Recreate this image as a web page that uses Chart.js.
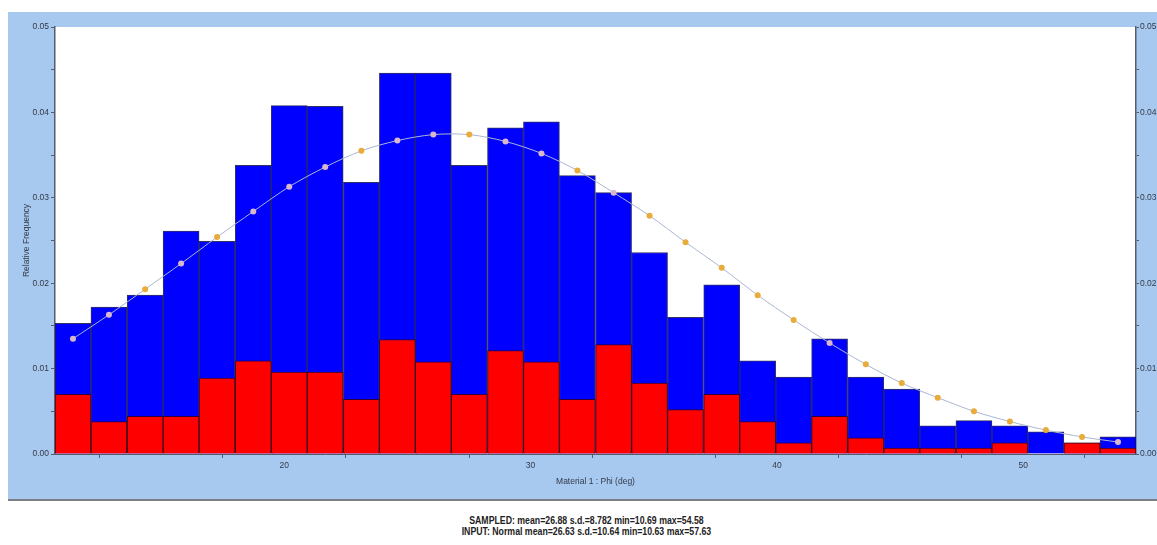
<!DOCTYPE html>
<html>
<head>
<meta charset="utf-8">
<script src="https://cdn.jsdelivr.net/npm/chart.js@4.4.0/dist/chart.umd.min.js"></script>
<style>
  html, body { margin: 0; padding: 0; background: #ffffff; }
  #wrap { position: relative; width: 1157px; height: 545px; overflow: hidden; background: #fff; }
  #panel { position: absolute; left: 8px; top: 12px; width: 1149px; height: 487px; background: #A7C8EF; border-bottom: 2px solid #7d7f84; }
  #cv { position: absolute; left: 8px; top: 12px; }
  #stats { position: absolute; left: 8px; width: 1157px; top: 515px; text-align: center;
           font-family: "Liberation Sans Narrow", "Arial Narrow", "Liberation Sans", sans-serif;
           font-weight: bold; font-size: 10px; line-height: 11px; color: #222;
           transform: scaleX(0.875); transform-origin: 578px 0; }
</style>
</head>
<body>
<div id="wrap">
  <div id="panel"></div>
  <canvas id="cv" width="1149" height="485"></canvas>
  <div id="stats">SAMPLED: mean=26.88 s.d.=8.782 min=10.69 max=54.58<br>INPUT: Normal mean=26.63 s.d.=10.64 min=10.63 max=57.63</div>
</div>
<script>
// Bin centres (Material 1 : Phi, deg) — 30 bins between sampled min and max
const binCenters = [11.42, 12.88, 14.35, 15.81, 17.27, 18.74, 20.20, 21.66, 23.13, 24.59,
                    26.05, 27.51, 28.98, 30.44, 31.90, 33.37, 34.83, 36.29, 37.76, 39.22,
                    40.68, 42.14, 43.61, 45.07, 46.53, 48.00, 49.46, 50.92, 52.39, 53.85];
// Blue: all samples (relative frequency)
const blueValues = [0.0153, 0.0172, 0.0186, 0.0261, 0.0249, 0.0338, 0.0408, 0.0407, 0.0318, 0.0446,
                    0.0446, 0.0338, 0.0382, 0.0389, 0.0326, 0.0306, 0.0236, 0.0160, 0.0198, 0.0109,
                    0.0090, 0.0135, 0.0090, 0.0076, 0.0033, 0.0039, 0.0033, 0.0026, 0.0013, 0.0020];
// Red: highlighted subset
const redValues  = [0.0070, 0.0038, 0.0044, 0.0044, 0.0089, 0.0109, 0.0096, 0.0096, 0.0064, 0.0134,
                    0.0108, 0.0070, 0.0121, 0.0108, 0.0064, 0.0128, 0.0083, 0.0052, 0.0070, 0.0038,
                    0.0013, 0.0044, 0.0019, 0.0007, 0.0007, 0.0007, 0.0013, 0.0000, 0.0013, 0.0007];
// Input normal distribution, per bin
const inputValues = [0.0135, 0.0163, 0.0193, 0.0223, 0.0254, 0.0284, 0.0313, 0.0336, 0.0355, 0.0367,
                     0.0374, 0.0374, 0.0366, 0.0352, 0.0332, 0.0306, 0.0279, 0.0248, 0.0218, 0.0186,
                     0.0157, 0.0130, 0.0105, 0.0083, 0.0066, 0.0050, 0.0038, 0.0028, 0.0020, 0.0014];
const xTicks = [15, 20, 25, 30, 35, 40, 45, 50];
const xLabeled = [20, 30, 40, 50];
const yTicks = [0, 0.005, 0.01, 0.015, 0.02, 0.025, 0.03, 0.035, 0.04, 0.045, 0.05];
const yLabeled = ["0.00", "0.01", "0.02", "0.03", "0.04", "0.05"];
const xMin = 10.69, xMax = 54.58;

const tickFont = { family: "'Liberation Sans', Arial, sans-serif", size: 8.5 };
const tickColor = '#333a48';

const whiteArea = {
  id: 'whiteArea',
  beforeDraw(chart) {
    const a = chart.chartArea, c = chart.ctx;
    c.save(); c.fillStyle = '#ffffff';
    c.fillRect(a.left, a.top, a.right - a.left, a.bottom - a.top);
    c.restore();
  }
};

function yCallback(v) {
  const s = Number(v).toFixed(2);
  return yLabeled.includes(s) && Math.abs(v * 100 - Math.round(v * 100)) < 1e-6 ? s : '';
}

new Chart(document.getElementById('cv'), {
  data: {
    datasets: [
      {
        type: 'line', label: 'Input', order: 0,
        data: binCenters.map((x, i) => ({ x, y: inputValues[i] })),
        borderColor: '#a9b7d3', borderWidth: 1, tension: 0.3,
        pointRadius: 3, pointBorderWidth: 0,
        pointBackgroundColor: (ctx) => (ctx.raw && ctx.raw.y > blueValues[ctx.dataIndex]) ? '#e9ab3a' : '#d9b7cb',
        fill: false
      },
      {
        type: 'bar', label: 'Red', order: 1,
        data: binCenters.map((x, i) => ({ x, y: redValues[i] })),
        backgroundColor: '#ff0000', borderColor: 'rgba(60,0,0,0.75)', borderWidth: 1,
        barPercentage: 1, categoryPercentage: 1, grouped: false
      },
      {
        type: 'bar', label: 'Blue', order: 2,
        data: binCenters.map((x, i) => ({ x, y: blueValues[i] })),
        backgroundColor: '#0000ff', borderColor: 'rgba(0,0,60,0.8)', borderWidth: 1,
        barPercentage: 1, categoryPercentage: 1, grouped: false
      }
    ]
  },
  options: {
    responsive: false, animation: false, devicePixelRatio: 1,
    layout: { padding: { left: 14, top: 15, right: 0, bottom: 10 } },
    plugins: { legend: { display: false }, tooltip: { enabled: false } },
    scales: {
      x: {
        type: 'linear', min: xMin, max: xMax, offset: false,
        afterFit(s) { s.height = 33; },
        afterBuildTicks(s) { s.ticks = xTicks.map(v => ({ value: v })); },
        ticks: { font: tickFont, color: tickColor, padding: 3, maxRotation: 0, autoSkip: false,
                 callback: (v) => xLabeled.includes(v) ? String(v) : '' },
        grid: { drawOnChartArea: false, drawTicks: true, tickLength: 4, color: '#555c6a' },
        border: { display: true, color: '#555c6a' },
        title: { display: true, text: 'Material 1 : Phi (deg)', font: { family: "'Liberation Sans', Arial, sans-serif", size: 8.5 }, color: '#333a48', padding: { top: 4, bottom: 0 } }
      },
      y: {
        position: 'left', min: 0, max: 0.05,
        afterFit(s) { s.width = 33; },
        afterBuildTicks(s) { s.ticks = yTicks.map(v => ({ value: v })); },
        ticks: { font: tickFont, color: tickColor, padding: 2, autoSkip: false, callback: yCallback },
        grid: { drawOnChartArea: false, drawTicks: true, tickLength: 4, color: '#555c6a' },
        border: { display: true, color: '#555c6a', width: 1.5 },
        title: { display: true, text: 'Relative Frequency', font: { family: "'Liberation Sans', Arial, sans-serif", size: 8.5 }, color: '#333a48', padding: { top: 0, bottom: 0 } }
      },
      y2: {
        position: 'right', min: 0, max: 0.05,
        afterFit(s) { s.width = 21; },
        afterBuildTicks(s) { s.ticks = yTicks.map(v => ({ value: v })); },
        ticks: { font: tickFont, color: tickColor, padding: 1, autoSkip: false, callback: yCallback },
        grid: { drawOnChartArea: false, drawTicks: true, tickLength: 3, color: '#555c6a' },
        border: { display: true, color: '#555c6a', width: 1.5 }
      }
    }
  },
  plugins: [whiteArea]
});
</script>
</body>
</html>
